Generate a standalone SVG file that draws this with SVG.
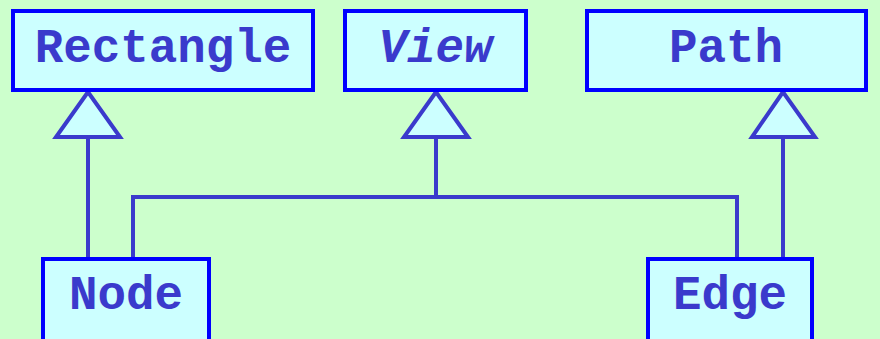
<svg xmlns="http://www.w3.org/2000/svg" width="880" height="339" viewBox="0 0 880 339">
<style>
.box{fill:#ccffff;stroke:#0000ff;stroke-width:4}
.lbl{font-family:"Liberation Mono","Courier New",monospace;font-weight:bold;font-size:47.5px;fill:#3a3acc;text-anchor:middle}
.ln{fill:none;stroke:#3a3acc;stroke-width:4}
.tri{fill:#ccffff;stroke:#3a3acc;stroke-width:4;stroke-linejoin:miter}
</style>
<rect x="0" y="0" width="880" height="339" fill="#ccffcc"/>
<g id="connectors">
<polyline class="ln" points="88,137 88,257"/>
<polyline class="ln" points="133,257 133,197 737,197 737,257"/>
<polyline class="ln" points="436,137 436,197"/>
<polyline class="ln" points="783,137 783,257"/>
<polygon class="tri" points="88,92 56,137 120,137"/>
<polygon class="tri" points="436,92 404,137 468,137"/>
<polygon class="tri" points="783,92 752,137 815,137"/>
</g>
<g id="Rectangle">
<rect class="box" x="13" y="11" width="300" height="79"/>
<text class="lbl" x="163" y="62">Rectangle</text>
</g>
<g id="View">
<rect class="box" x="345" y="11" width="181" height="79"/>
<text class="lbl" x="435.5" y="62" font-style="italic">View</text>
</g>
<g id="Path">
<rect class="box" x="587" y="11" width="279" height="79"/>
<text class="lbl" x="726" y="62">Path</text>
</g>
<g id="Node">
<rect class="box" x="43" y="259" width="166" height="90"/>
<text class="lbl" x="126" y="309">Node</text>
</g>
<g id="Edge">
<rect class="box" x="648" y="259" width="164" height="90"/>
<text class="lbl" x="730" y="309">Edge</text>
</g>
</svg>
